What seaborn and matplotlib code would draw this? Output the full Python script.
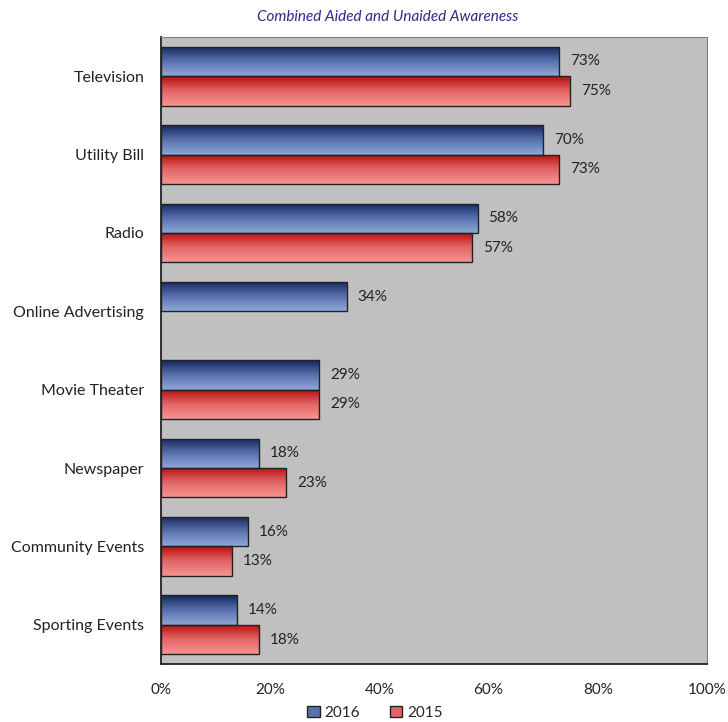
import numpy as np
import pandas as pd
import matplotlib
matplotlib.use('Agg')
import matplotlib.pyplot as plt
import seaborn as sns
from matplotlib.colors import LinearSegmentedColormap
from matplotlib.patches import Patch

# ===== 数据 =====
categories = ['Television', 'Utility Bill', 'Radio', 'Online Advertising',
              'Movie Theater', 'Newspaper', 'Community Events', 'Sporting Events']
years = ['2016', '2015']
values_2016 = [73, 70, 58, 34, 29, 18, 16, 14]
values_2015 = [75, 73, 57, np.nan, 29, 23, 13, 18]
x_ticks = [0, 20, 40, 60, 80, 100]

df = pd.DataFrame({
    'category': categories * 2,
    'year': [years[0]] * len(categories) + [years[1]] * len(categories),
    'value': values_2016 + values_2015,
})

sns.set_theme(style='white')
plt.rcParams['font.family'] = ['Lato', 'DejaVu Sans']

fig = plt.figure(figsize=(7.28, 7.22), dpi=100)
ax = fig.add_axes([0.221, 0.0803, 0.750, 0.8685])
ax.set_facecolor('#C0C0C0')

palette = {'2016': '#4F6BAE', '2015': '#E35B5B'}
sns.barplot(data=df, y='category', x='value', hue='year', order=categories,
            hue_order=years, palette=palette, orient='h', width=0.75,
            edgecolor='#222222', linewidth=1.0, legend=False, ax=ax)

# 渐变填充
cmaps = {
    '2016': LinearSegmentedColormap.from_list('b', ['#16265E', '#5871AE', '#8EA8DA']),
    '2015': LinearSegmentedColormap.from_list('r', ['#B80E0E', '#E26565', '#F79593']),
}
grad = np.linspace(0, 1, 64).reshape(-1, 1)
xlim = (0, 100)
ylim = ax.get_ylim()
for cont, yr in zip(ax.containers, years):
    for bar in cont:
        w = bar.get_width()
        if not np.isfinite(w) or w <= 0:
            continue
        x0, y0, h = bar.get_x(), bar.get_y(), bar.get_height()
        im = ax.imshow(grad, cmap=cmaps[yr], aspect='auto', origin='upper',
                       extent=(x0, x0 + w, y0 + h, y0), zorder=bar.get_zorder() - 0.1,
                       interpolation='bilinear')
        im.set_clip_path(bar)
        bar.set_facecolor('none')
        ax.text(x0 + w + 2.0, y0 + h / 2, f'{w:.0f}%', va='center', ha='left',
                fontsize=11, color='#222222')
ax.set_xlim(*xlim)
ax.set_ylim(ylim)

# 坐标轴
ax.set_xticks(x_ticks)
ax.set_xticklabels([f'{t}%' for t in x_ticks], fontsize=11, color='#222222')
ax.tick_params(axis='x', direction='out', length=5, width=1, color='#222222', pad=9)
ax.set_yticks(range(len(categories)))
ax.set_yticklabels(categories, fontsize=11.5, color='#222222')
ax.tick_params(axis='y', length=0, pad=12)
ax.set_yticks(np.arange(-0.5, len(categories), 1), minor=True)
ax.tick_params(axis='y', which='minor', direction='out', length=5, width=1, color='#222222')
ax.set_xlabel('')
ax.set_ylabel('')

for s in ['left', 'bottom']:
    ax.spines[s].set_color('#222222')
    ax.spines[s].set_linewidth(1.3)
for s in ['top', 'right']:
    ax.spines[s].set_color('#808080')
    ax.spines[s].set_linewidth(0.8)

# 标题
fig.text(0.532, 1.008, 'Sources', ha='center', va='center', fontsize=11,
         color='#2B2B8C', style='italic')
fig.text(0.532, 0.977, 'Combined Aided and Unaided Awareness', ha='center', va='center',
         fontsize=11, color='#2B2B8C', style='italic')

# 图例
handles = [Patch(facecolor='#5871AE', edgecolor='#222222', label='2016'),
           Patch(facecolor='#E26565', edgecolor='#222222', label='2015')]
fig.legend(handles=handles, loc='center', bbox_to_anchor=(0.515, 0.013), ncol=2,
           frameon=False, fontsize=11, handlelength=0.8, handleheight=0.8,
           handletextpad=0.3, columnspacing=2.0)

fig.savefig('out.png', dpi=100)
